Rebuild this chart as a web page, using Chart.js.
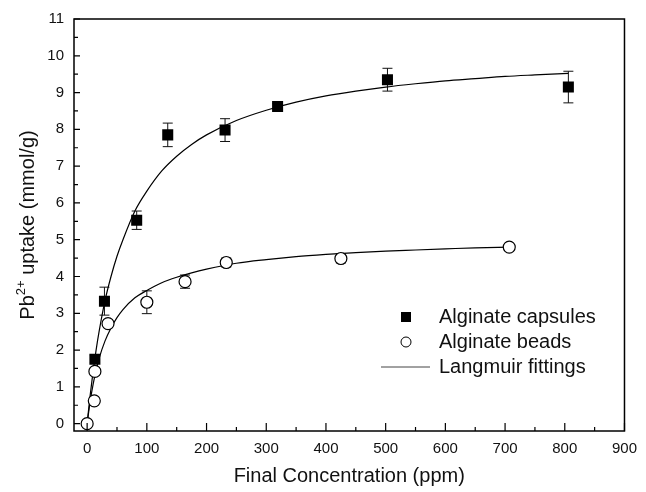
<!DOCTYPE html>
<html>
<head>
<meta charset="utf-8">
<script src="https://cdn.jsdelivr.net/npm/chart.js@4/dist/chart.umd.min.js"></script>
<style>
  body { margin: 0; background: #fff; }
  #wrap { width: 646px; height: 492px; }
</style>
</head>
<body>
<div id="wrap"><canvas id="grafico"></canvas></div>
<script>
// datos
const capsX = [13, 29, 83, 135, 231, 319, 503, 806];
const capsY = [1.75, 3.33, 5.53, 7.85, 7.98, 8.62, 9.35, 9.15];
const capsErr = [0.1, 0.38, 0.25, 0.32, 0.31, 0.08, 0.31, 0.43];

const beadX = [0, 12, 13, 35, 100, 164, 233, 425, 707];
const beadY = [0, 0.62, 1.42, 2.72, 3.30, 3.86, 4.38, 4.49, 4.80];
const beadErr = [0.05, 0.05, 0.1, 0.1, 0.31, 0.18, 0.12, 0.12, 0.08];

// curvas de Langmuir (leidas)
const fitCapsX = [0, 5, 10, 15, 20, 30, 40, 50, 60, 80, 100, 125, 150, 175, 200, 250, 300, 350, 400, 450, 500, 550, 600, 650, 700, 750, 806];
const fitCapsY = [0, 0.76, 1.42, 2.0, 2.5, 3.35, 4.0, 4.55, 5.0, 5.78, 6.32, 6.87, 7.27, 7.59, 7.85, 8.24, 8.52, 8.74, 8.91, 9.04, 9.15, 9.24, 9.32, 9.38, 9.44, 9.48, 9.52];
const fitBeadX = [0, 5, 10, 15, 20, 30, 40, 50, 60, 80, 100, 125, 150, 175, 200, 250, 300, 350, 400, 450, 500, 550, 600, 650, 707];
const fitBeadY = [0, 0.6, 1.07, 1.45, 1.77, 2.25, 2.6, 2.88, 3.1, 3.42, 3.62, 3.83, 3.98, 4.1, 4.2, 4.36, 4.46, 4.54, 4.6, 4.65, 4.69, 4.72, 4.75, 4.78, 4.80];

const xTicks = [0, 100, 200, 300, 400, 500, 600, 700, 800, 900];
const yTicks = [0, 1, 2, 3, 4, 5, 6, 7, 8, 9, 10, 11];
const legendLabels = ["Alginate capsules", "Alginate beads", "Langmuir fittings"];

const FONT = "'Liberation Sans', Arial, sans-serif";

function pts(xs, ys) {
    return xs.map((x, i) => ({ x: x, y: ys[i] }));
}

const extras = {
    id: 'extras',
    beforeDatasetsDraw(chart) {
        const ctx = chart.ctx;
        const sx = chart.scales.x, sy = chart.scales.y;
        ctx.save();
        ctx.strokeStyle = '#111';
        ctx.lineWidth = 1;
        const bars = [[capsX, capsY, capsErr], [beadX, beadY, beadErr]];
        bars.forEach(b => {
            b[0].forEach((x, i) => {
                const px = sx.getPixelForValue(x);
                const top = sy.getPixelForValue(b[1][i] + b[2][i]);
                const bot = sy.getPixelForValue(b[1][i] - b[2][i]);
                ctx.beginPath();
                ctx.moveTo(px, top); ctx.lineTo(px, bot);
                ctx.moveTo(px - 5, top); ctx.lineTo(px + 5, top);
                ctx.moveTo(px - 5, bot); ctx.lineTo(px + 5, bot);
                ctx.stroke();
            });
        });
        ctx.restore();
    },
    afterDraw(chart) {
        const ctx = chart.ctx;
        const a = chart.chartArea;
        const sx = chart.scales.x, sy = chart.scales.y;
        ctx.save();
        // marco
        ctx.strokeStyle = '#000';
        ctx.lineWidth = 1.5;
        ctx.strokeRect(a.left, a.top, a.right - a.left, a.bottom - a.top);
        // ticks hacia adentro
        ctx.lineWidth = 1.2;
        ctx.beginPath();
        xTicks.forEach(v => {
            const p = sx.getPixelForValue(v);
            ctx.moveTo(p, a.bottom); ctx.lineTo(p, a.bottom - 8);
            if (v + 50 < 900) {
                const m = sx.getPixelForValue(v + 50);
                ctx.moveTo(m, a.bottom); ctx.lineTo(m, a.bottom - 4);
            }
        });
        yTicks.forEach(v => {
            const p = sy.getPixelForValue(v);
            ctx.moveTo(a.left, p); ctx.lineTo(a.left + 6, p);
            if (v + 0.5 < 11) {
                const m = sy.getPixelForValue(v + 0.5);
                ctx.moveTo(a.left, m); ctx.lineTo(a.left + 4, m);
            }
        });
        ctx.stroke();

        // titulo eje y con superindice
        ctx.fillStyle = '#111';
        ctx.translate(34, (a.top + a.bottom) / 2);
        ctx.rotate(-Math.PI / 2);
        ctx.textBaseline = 'alphabetic';
        ctx.font = '20px ' + FONT;
        const t1 = 'Pb', t3 = ' uptake (mmol/g)';
        ctx.font = '13px ' + FONT;
        const wSup = ctx.measureText('2+').width;
        ctx.font = '20px ' + FONT;
        const w1 = ctx.measureText(t1).width, w3 = ctx.measureText(t3).width;
        let x0 = -(w1 + wSup + w3) / 2;
        ctx.fillText(t1, x0, 0);
        ctx.font = '13px ' + FONT;
        ctx.fillText('2+', x0 + w1, -9);
        ctx.font = '20px ' + FONT;
        ctx.fillText(t3, x0 + w1 + wSup, 0);
        ctx.setTransform(1, 0, 0, 1, 0, 0);

        // leyenda
        const lx = 406, ly = [317, 342, 367];
        ctx.fillStyle = '#000';
        ctx.fillRect(lx - 5, ly[0] - 5, 10, 10);
        ctx.beginPath();
        ctx.arc(lx, ly[1], 5, 0, Math.PI * 2);
        ctx.lineWidth = 1;
        ctx.strokeStyle = '#000';
        ctx.stroke();
        ctx.beginPath();
        ctx.strokeStyle = '#444';
        ctx.moveTo(381, ly[2]); ctx.lineTo(430, ly[2]);
        ctx.stroke();
        ctx.font = '20px ' + FONT;
        ctx.fillStyle = '#111';
        ctx.textBaseline = 'middle';
        legendLabels.forEach((t, i) => ctx.fillText(t, 439, ly[i]));
        ctx.restore();
    }
};

const ctx = document.getElementById('grafico').getContext('2d');
const grafico = new Chart(ctx, {
    type: 'scatter',
    data: {
        datasets: [
            {
                label: legendLabels[0],
                data: pts(capsX, capsY),
                pointStyle: 'rect',
                pointRadius: 7.8,
                backgroundColor: '#000',
                borderColor: '#000',
                borderWidth: 0,
                order: 1
            },
            {
                label: legendLabels[1],
                data: pts(beadX, beadY),
                pointStyle: 'circle',
                pointRadius: 6,
                backgroundColor: '#fff',
                borderColor: '#000',
                borderWidth: 1.2,
                order: 1
            },
            {
                label: legendLabels[2],
                data: pts(fitCapsX, fitCapsY),
                showLine: true,
                pointRadius: 0,
                borderColor: '#000',
                borderWidth: 1.2,
                cubicInterpolationMode: 'monotone',
                order: 2
            },
            {
                label: legendLabels[2],
                data: pts(fitBeadX, fitBeadY),
                showLine: true,
                pointRadius: 0,
                borderColor: '#000',
                borderWidth: 1.2,
                cubicInterpolationMode: 'monotone',
                order: 2
            }
        ]
    },
    options: {
        responsive: true,
        maintainAspectRatio: false,
        animation: false,
        layout: { padding: { top: 16, right: 14, left: 0, bottom: 0 } },
        plugins: {
            legend: { display: false },
            tooltip: { enabled: false }
        },
        scales: {
            x: {
                type: 'linear',
                min: -22,
                max: 900,
                afterBuildTicks: s => { s.ticks = xTicks.map(v => ({ value: v })); },
                afterFit: s => { s.height = 61; },
                grid: { display: false, drawTicks: false },
                border: { display: false },
                ticks: { color: '#111', padding: 9, maxRotation: 0, font: { family: FONT, size: 15 } },
                title: {
                    display: true,
                    text: 'Final Concentration (ppm)',
                    color: '#111',
                    padding: { top: 0, bottom: 4 },
                    font: { family: FONT, size: 20 }
                }
            },
            y: {
                type: 'linear',
                min: -0.2,
                max: 11,
                afterBuildTicks: s => { s.ticks = yTicks.map(v => ({ value: v })); },
                afterFit: s => { s.width = 74; },
                grid: { display: false, drawTicks: false },
                border: { display: false },
                ticks: { color: '#111', padding: 10, font: { family: FONT, size: 15 } }
            }
        }
    },
    plugins: [extras]
});
</script>
</body>
</html>
